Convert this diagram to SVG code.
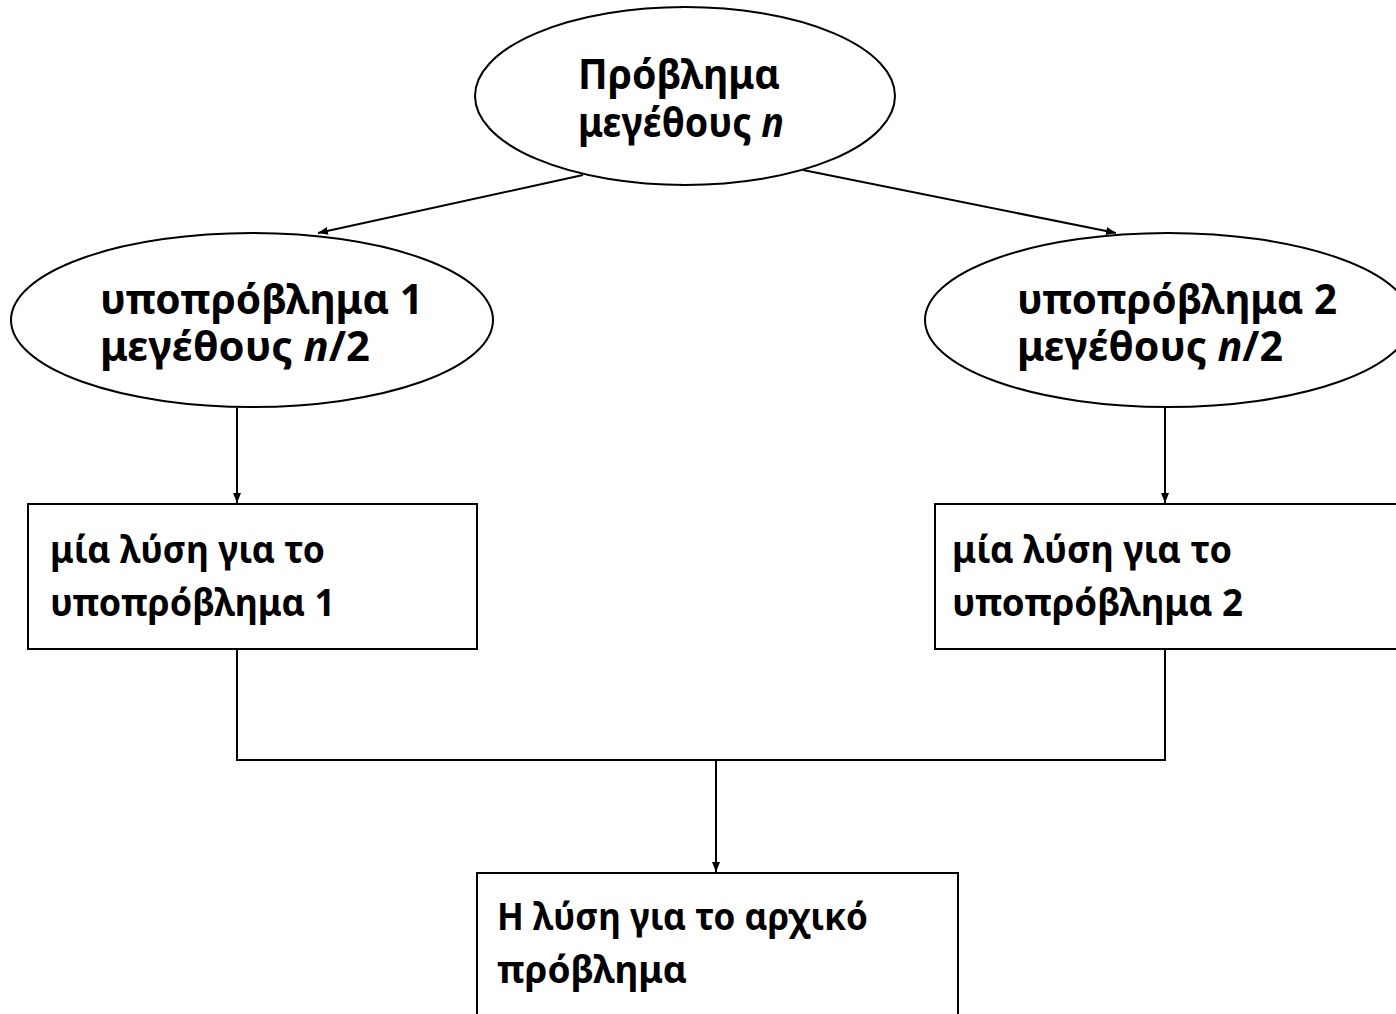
<svg xmlns="http://www.w3.org/2000/svg" width="1396" height="1014" viewBox="0 0 1396 1014">
<style>
.shape{fill:#fff;stroke:#000;stroke-width:2}
.t{font-family:"Noto Sans","Open Sans","DejaVu Sans",sans-serif;font-weight:bold;fill:#000}
.big{font-size:41px}
.small{font-size:37px}
.conn{fill:none;stroke:#000;stroke-width:2}
.it{font-style:italic}
</style>
<defs>
<marker id="arr" viewBox="0 0 10 8" refX="10" refY="4" markerWidth="10" markerHeight="8" markerUnits="userSpaceOnUse" orient="auto">
<path d="M0,0 L10,4 L0,8 z" fill="#000"/>
</marker>
</defs>
<rect width="1396" height="1014" fill="#fff"/>
<g id="connectors">
<line class="conn" x1="583" y1="175" x2="318" y2="233" marker-end="url(#arr)"/>
<line class="conn" x1="803" y1="170" x2="1116" y2="233" marker-end="url(#arr)"/>
<line class="conn" x1="237" y1="408" x2="237" y2="503" marker-end="url(#arr)"/>
<line class="conn" x1="1165" y1="408" x2="1165" y2="503" marker-end="url(#arr)"/>
<polyline class="conn" points="237,649 237,760 1165,760 1165,649"/>
<line class="conn" x1="716" y1="760" x2="716" y2="872" marker-end="url(#arr)"/>
</g>
<g id="n-top">
<ellipse class="shape" cx="685" cy="96" rx="210" ry="89"/>
<text class="t big" x="578" y="89" textLength="202" lengthAdjust="spacingAndGlyphs">Πρόβλημα</text>
<text class="t big" x="578" y="137" textLength="206" lengthAdjust="spacingAndGlyphs">μεγέθους <tspan class="it">n</tspan></text>
</g>
<g id="n-sub1">
<ellipse class="shape" cx="252" cy="320" rx="241" ry="87"/>
<text class="t big" x="100" y="314" textLength="323" lengthAdjust="spacingAndGlyphs">υποπρόβλημα 1</text>
<text class="t big" x="100" y="361" textLength="270" lengthAdjust="spacingAndGlyphs">μεγέθους <tspan class="it">n</tspan>/2</text>
</g>
<g id="n-sub2">
<ellipse class="shape" cx="1168" cy="320" rx="243" ry="87"/>
<text class="t big" x="1017" y="314" textLength="320" lengthAdjust="spacingAndGlyphs">υποπρόβλημα 2</text>
<text class="t big" x="1017" y="361" textLength="266" lengthAdjust="spacingAndGlyphs">μεγέθους <tspan class="it">n</tspan>/2</text>
</g>
<g id="n-sol1">
<rect class="shape" x="28" y="504" width="449" height="145"/>
<text class="t small" x="50" y="563" textLength="275" lengthAdjust="spacingAndGlyphs">μία λύση για το</text>
<text class="t small" x="50" y="616" textLength="285" lengthAdjust="spacingAndGlyphs">υποπρόβλημα 1</text>
</g>
<g id="n-sol2">
<rect class="shape" x="935" y="504" width="470" height="145"/>
<text class="t small" x="952" y="563" textLength="280" lengthAdjust="spacingAndGlyphs">μία λύση για το</text>
<text class="t small" x="952" y="616" textLength="291" lengthAdjust="spacingAndGlyphs">υποπρόβλημα 2</text>
</g>
<g id="n-final">
<rect class="shape" x="477" y="873" width="481" height="150"/>
<text class="t small" x="497" y="930" textLength="371" lengthAdjust="spacingAndGlyphs">Η λύση για το αρχικό</text>
<text class="t small" x="497" y="983" textLength="190" lengthAdjust="spacingAndGlyphs">πρόβλημα</text>
</g>
</svg>
